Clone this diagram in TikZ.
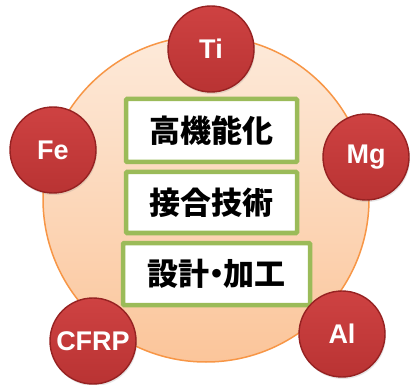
\documentclass[tikz,border=0pt]{standalone}
\usepackage{fontspec}
\setmainfont{Liberation Sans}
\newfontfamily\cjk{Noto Sans CJK JP}
\usetikzlibrary{shadows}
\definecolor{ringorange}{HTML}{F79646}
\definecolor{peachtop}{HTML}{FDEADA}
\definecolor{peachbot}{HTML}{FBC59A}
\definecolor{boxgreen}{HTML}{9BBB59}
\definecolor{ballrim}{HTML}{962222}
\definecolor{balltop}{HTML}{CE4242}
\definecolor{ballbot}{HTML}{B93333}
\tikzset{
  ball/.style={circle, minimum size=86pt, inner sep=0pt, draw=ballrim, line width=1.4pt,
    top color=balltop, bottom color=ballbot, text=white,
    font=\bfseries\fontsize{27}{27}\selectfont,
    drop shadow={shadow xshift=1pt, shadow yshift=-2pt, opacity=0.2}},
  topicbox/.style={draw=boxgreen, line width=4.5pt, fill=white, rounded corners=1pt,
    inner sep=0pt, font=\cjk\bfseries\fontsize{31}{31}\selectfont, text=black}
}
\begin{document}
\begin{tikzpicture}[x=1pt,y=-1pt]
\useasboundingbox (0,0) rectangle (410,385);
\node[circle, minimum size=326pt, inner sep=0pt, draw=ringorange, line width=1.5pt,
  top color=peachtop, bottom color=peachbot] (ring) at (206,199) {};
\node[topicbox, minimum width=171pt, minimum height=63pt] (b1) at (211.5,130.5) {高機能化};
\node[topicbox, minimum width=171pt, minimum height=61pt] (b2) at (211.5,202.5) {接合技術};
\node[topicbox, minimum width=187pt, minimum height=62pt] (b3) at (216.5,274) {設計\kern-0.28em・\kern-0.28em加工};
\node[ball] (ti) at (211,49) {Ti};
\node[ball] (fe) at (53,150) {Fe};
\node[ball] (mg) at (366,157) {Mg};
\node[ball] (cfrp) at (93,341) {CFRP};
\node[ball] (al) at (342,334) {Al};
\end{tikzpicture}
\end{document}
